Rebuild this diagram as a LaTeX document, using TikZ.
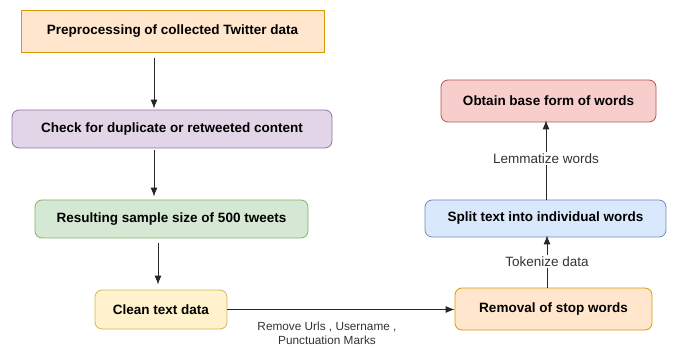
\documentclass[tikz,border=0pt]{standalone}
\usepackage{fontspec}
\setmainfont{Liberation Sans}
\usepackage{tikz}
\usetikzlibrary{positioning,arrows.meta}

\definecolor{orangefill}{HTML}{FFE6CC}
\definecolor{orangeline}{HTML}{D79B00}
\definecolor{purplefill}{HTML}{E1D5E7}
\definecolor{purpleline}{HTML}{9673A6}
\definecolor{greenfill}{HTML}{D5E8D4}
\definecolor{greenline}{HTML}{82B366}
\definecolor{yellowfill}{HTML}{FFF2CC}
\definecolor{yellowline}{HTML}{D6B656}
\definecolor{bluefill}{HTML}{DAE8FC}
\definecolor{blueline}{HTML}{6C8EBF}
\definecolor{redfill}{HTML}{F8CECC}
\definecolor{redline}{HTML}{B85450}
\definecolor{txtgray}{HTML}{333333}

\tikzset{
  stage/.style={draw, line width=0.8pt, inner sep=0pt, align=center,
    font=\fontsize{13.5}{16}\selectfont\bfseries, text=black},
  rstage/.style={stage, rounded corners=7pt},
  flow/.style={-{Latex[length=9pt,width=7pt]}, line width=0.9pt, draw=black!85},
  steplabel/.style={fill=white, text=txtgray, inner sep=1.5pt,
    font=\fontsize{13.5}{16}\selectfont}
}

\begin{document}
\begin{tikzpicture}[x=1pt, y=-1pt]
    \useasboundingbox (0,0) rectangle (674,347);
    \node [stage, fill=orangefill, draw=orangeline, minimum width=303pt, minimum height=42pt] (prep) at (172.5,31) {Preprocessing of collected Twitter data};
    \node [rstage, fill=purplefill, draw=purpleline, minimum width=320pt, minimum height=38pt] (check) at (172,129) {Check for duplicate or retweeted content};
    \node [rstage, fill=greenfill, draw=greenline, minimum width=273pt, minimum height=38pt] (sample) at (171.5,219) {Resulting sample size of 500 tweets};
    \node [rstage, fill=yellowfill, draw=yellowline, minimum width=132pt, minimum height=39pt] (clean) at (161,309.5) {Clean text data};
    \node [rstage, fill=orangefill, draw=orangeline, minimum width=197pt, minimum height=42pt] (stop) at (553.5,309) {Removal of stop words};
    \node [rstage, fill=bluefill, draw=blueline, minimum width=241pt, minimum height=37pt] (split) at (545.5,218.5) {Split text into individual words};
    \node [rstage, fill=redfill, draw=redline, minimum width=215pt, minimum height=42pt] (base) at (548.5,101) {Obtain base form of words};
    % left column
    \draw [flow] ([xshift=-18.5pt, yshift=-6pt]prep.south) -- ([xshift=-18pt, yshift=1pt]check.north);
    \draw [flow] ([xshift=-18pt, yshift=-2pt]check.south) -- ([xshift=-17.5pt, yshift=3pt]sample.north);
    \draw [flow] ([xshift=-13.5pt, yshift=-5pt]sample.south) -- ([xshift=-3pt, yshift=5pt]clean.north);
    % across
    \draw [flow] (clean.east) -- ([yshift=-0.5pt]stop.west);
    \node [text=txtgray, align=center, font=\fontsize{11.8}{14}\selectfont] (cleanlbl) at (327,333.5) {Remove Urls , Username ,\\Punctuation Marks};
    % right column
    \draw [flow] ([xshift=-6.5pt]stop.north) -- node [steplabel, pos=0.5] {Tokenize data} ([xshift=1.5pt, yshift=2pt]split.south);
    \draw [flow] ([xshift=0.5pt]split.north) -- node [steplabel, pos=0.52] {Lemmatize words} ([xshift=-2.5pt, yshift=2pt]base.south);
\end{tikzpicture}
\end{document}
